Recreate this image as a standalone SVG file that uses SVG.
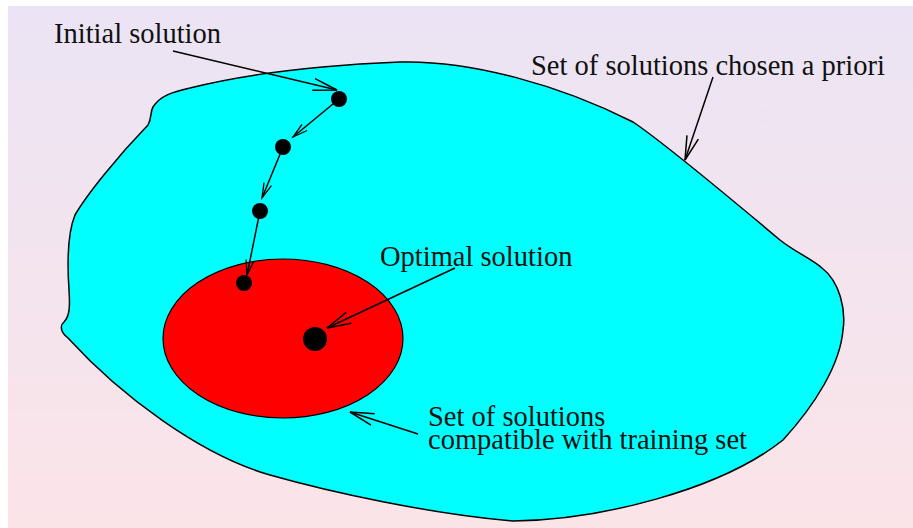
<svg xmlns="http://www.w3.org/2000/svg" width="913" height="528" viewBox="0 0 913 528">
<defs>
<linearGradient id="bg" x1="0" y1="0" x2="0" y2="1">
<stop offset="0" stop-color="#ebe4f4"/>
<stop offset="1" stop-color="#fbe4e8"/>
</linearGradient>
<marker id="ah" markerUnits="userSpaceOnUse" markerWidth="30" markerHeight="16" refX="0" refY="0" viewBox="-26 -8 28 16" orient="auto" overflow="visible">
<path d="M-24,-6 L0,0 L-24,6" fill="none" stroke="#000" stroke-width="1.5"/>
</marker>
<marker id="ahs" markerUnits="userSpaceOnUse" markerWidth="20" markerHeight="12" refX="0" refY="0" viewBox="-18 -6 20 12" orient="auto" overflow="visible">
<path d="M-15,-4 L0,0 L-15,4" fill="none" stroke="#000" stroke-width="1.3"/>
</marker>
</defs>
<style>
.lbl{font-family:"Liberation Serif","Times New Roman",serif;font-size:28.5px;fill:#111}
.conn{fill:none;stroke:#000;stroke-width:1.5}
.dot{fill:#000}
</style>
<rect x="8" y="6" width="905" height="522" fill="url(#bg)"/>
<g id="apriori-set">
<path d="M153,107 C160,96 172,92 190,88 C230,78 300,66 400,62 C470,60 560,85 633,122 C660,140 730,198 780,240 C795,252 810,258 822,268 C840,282 846,310 843,330 C840,365 815,405 783,440 C720,490 600,520 513,521 C430,514 330,492 270,475 C200,455 120,395 68,338 C60,332 60,325 64,322 C70,316 70,305 69,290 C67,260 68,232 75,215 C86,196 116,158 148,125 C152,118 150,112 153,107 Z" fill="#00ffff" stroke="#000" stroke-width="1.5"/>
</g>
<g id="training-set">
<ellipse cx="283" cy="338.5" rx="120" ry="79.5" fill="#ff0000" stroke="#000" stroke-width="1.2"/>
</g>
<g id="connectors">
<line class="conn" x1="173" y1="51" x2="337" y2="90" marker-end="url(#ah)"/>
<line class="conn" x1="339" y1="99" x2="293" y2="137" marker-end="url(#ahs)"/>
<line class="conn" x1="283" y1="147" x2="262" y2="198" marker-end="url(#ahs)"/>
<line class="conn" x1="260" y1="211" x2="247" y2="275" marker-end="url(#ahs)"/>
<line class="conn" x1="455" y1="268" x2="327" y2="328" marker-end="url(#ah)"/>
<line class="conn" x1="713" y1="77" x2="685" y2="160" marker-end="url(#ah)"/>
<line class="conn" x1="418" y1="434" x2="350" y2="412" marker-end="url(#ah)"/>
</g>
<g id="dot1"><circle class="dot" cx="339" cy="99" r="8"/></g>
<g id="dot2"><circle class="dot" cx="283" cy="147" r="8"/></g>
<g id="dot3"><circle class="dot" cx="260" cy="211" r="8"/></g>
<g id="dot4"><circle class="dot" cx="244" cy="283" r="8"/></g>
<g id="optimal"><circle class="dot" cx="315" cy="339" r="12"/></g>
<g id="labels">
<text class="lbl" x="54" y="43">Initial solution</text>
<text class="lbl" x="531" y="75">Set of solutions chosen a priori</text>
<text class="lbl" x="380" y="266">Optimal solution</text>
<text class="lbl" x="428" y="426">Set of solutions<tspan x="428" y="449">compatible with training set</tspan></text>
</g>
</svg>
